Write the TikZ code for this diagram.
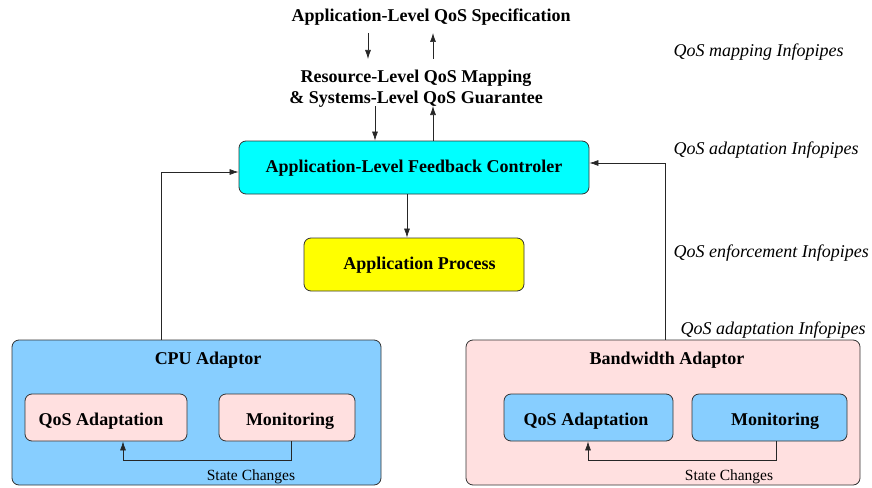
\documentclass[tikz,border=0pt]{standalone}
\usepackage{fontspec}
\setmainfont{Liberation Serif}
\usetikzlibrary{arrows.meta}
\definecolor{ltblue}{RGB}{135,206,255}
\definecolor{ltpink}{RGB}{255,224,224}
\definecolor{fcyan}{RGB}{0,255,255}
\definecolor{fyellow}{RGB}{255,255,0}
\begin{document}
\begin{tikzpicture}[x=1pt,y=-1pt,
  box/.style={draw=black!80,rounded corners=7pt,line width=0.8pt,inner sep=0pt},
  lbl/.style={font=\fontsize{18}{21}\selectfont\bfseries},
  side/.style={font=\fontsize{18}{21}\selectfont\itshape,anchor=west},
  small/.style={font=\fontsize{15.5}{17}\selectfont},
  conn/.style={draw=black!85,line width=0.7pt},
  arr/.style={conn,-{Latex[length=9pt,width=6pt]}}]
\useasboundingbox (0,0) rectangle (872,487);
% texts at top
\node[lbl] (spec) at (431,17) {Application-Level QoS Specification};
\node[lbl,align=center] (map) at (416,88.5) {Resource-Level QoS Mapping\\\& Systems-Level QoS Guarantee};
\coordinate (s1) at (368,33); \coordinate (s2) at (368,59);
\coordinate (u1) at (433,59); \coordinate (u2) at (433,33);
\draw[arr] (s1) -- (s2);
\draw[arr] (u1) -- (u2);
% controller
\node[box,fill=fcyan,minimum width=350pt,minimum height=53pt] (ctl) at (414,167.5) {};
\node[lbl] (ctlt) at (414,168) {Application-Level Feedback Controler};
\coordinate (m1) at (375,106); \coordinate (m2) at (433,106);
\draw[arr] (m1) -- (m1 |- ctl.north);
\draw[arr] (m2 |- ctl.north) -- (m2);
% process
\node[box,fill=fyellow,minimum width=220pt,minimum height=53pt] (proc) at (414,264.5) {};
\node[lbl] (proct) at (419.5,265) {Application Process};
\draw[arr] (407,194) -- (proc.north -| 407,0);
% CPU adaptor
\node[box,fill=ltblue,minimum width=369pt,minimum height=145pt] (cpu) at (196.5,412.5) {};
\node[lbl] (cput) at (208,360) {CPU Adaptor};
\node[box,fill=ltpink,minimum width=162pt,minimum height=47pt] (cq) at (106,417.5) {};
\node[lbl] (cqt) at (101,421) {QoS Adaptation};
\node[box,fill=ltpink,minimum width=136pt,minimum height=47pt] (cm) at (287,417.5) {};
\node[lbl] (cmt) at (290,421) {Monitoring};
\coordinate (c1) at (291,460); \coordinate (c2) at (123,460);
\draw[arr] (c1 |- cm.south) -- (c1) -- (c2) -- (c2 |- cq.south);
\node[small] (cs) at (251,476.5) {State Changes};
% Bandwidth adaptor
\node[box,fill=ltpink,minimum width=394pt,minimum height=145pt] (bw) at (663,412.5) {};
\node[lbl] (bwt) at (667,360) {Bandwidth Adaptor};
\node[box,fill=ltblue,minimum width=169pt,minimum height=47pt] (bq) at (588.5,417.5) {};
\node[lbl] (bqt) at (586,421) {QoS Adaptation};
\node[box,fill=ltblue,minimum width=155pt,minimum height=47pt] (bm) at (769.5,417.5) {};
\node[lbl] (bmt) at (775,421) {Monitoring};
\coordinate (b1) at (776,460); \coordinate (b2) at (588,460);
\draw[arr] (b1 |- bm.south) -- (b1) -- (b2) -- (b2 |- bq.south);
\node[small] (bs) at (729,476.5) {State Changes};
% feedback lines
\coordinate (fl) at (161,172);
\coordinate (fr) at (665,163);
\draw[arr] (fl |- cpu.north) -- (fl) -- (fl -| ctl.west);
\draw[arr] (fr |- bw.north) -- (fr) -- (fr -| ctl.east);
% side labels
\node[side] (l1) at (670,52) {QoS mapping Infopipes};
\node[side] (l2) at (670,150) {QoS adaptation Infopipes};
\node[side] (l3) at (670,253) {QoS enforcement Infopipes};
\node[side] (l4) at (677,330) {QoS adaptation Infopipes};
\end{tikzpicture}
\end{document}
